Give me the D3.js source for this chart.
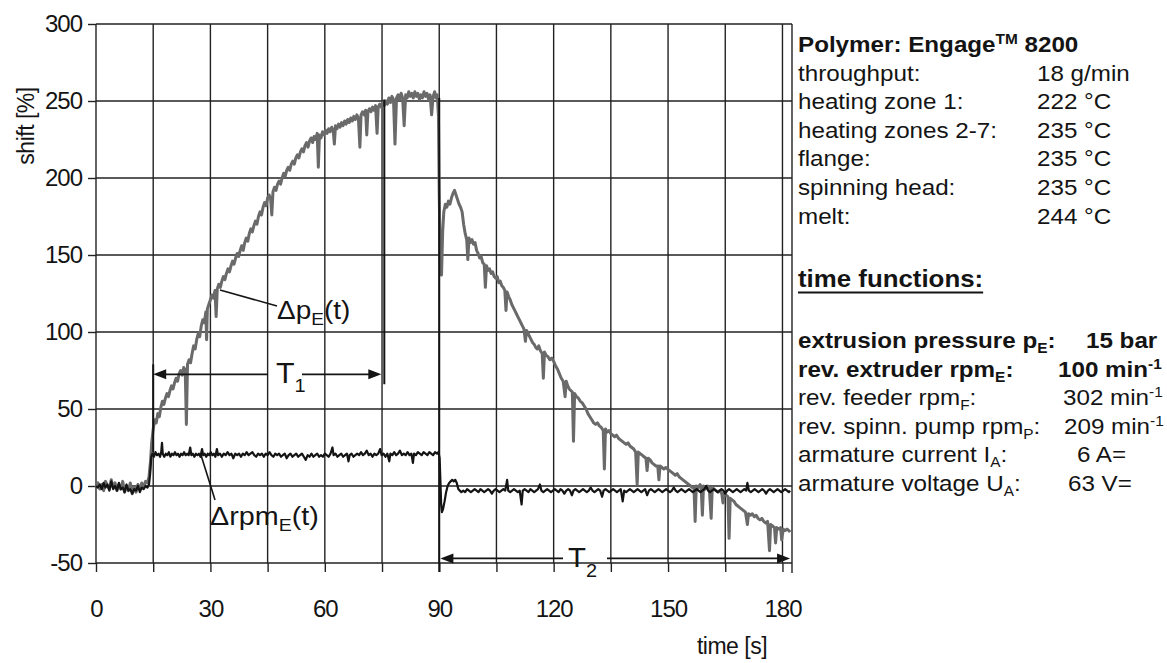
<!DOCTYPE html>
<html><head><meta charset="utf-8">
<script src="https://cdn.jsdelivr.net/npm/d3@7"></script>
<style>
body{margin:0;background:#fff}
text{font-family:"Liberation Sans",Arial,Helvetica,sans-serif;fill:#141414}
</style>
</head><body>
<svg id="c" width="1167" height="663"></svg>
<script>
// ---------------- data ----------------
const xTickLabels = [0, 30, 60, 90, 120, 150, 180];
const xGridValues = [0, 15, 30, 45, 60, 75, 90, 105, 120, 135, 150, 165, 180];
const yTickValues = [-50, 0, 50, 100, 150, 200, 250, 300];

// Δp_E(t) [%] : [time s, shift %]
const pressureShift = [
[0,-1],[0.5,2],[1,-2],[1.5,1],[2,-3],[2.5,3],[3,0],[3.5,-2],[4,4],[4.5,-1],[5,2],[5.5,-3],[6,1],[6.5,-2],[7,3],[7.5,-4],[8,0],[8.5,-3],[9,2],[9.5,-5],[10,-1],[10.5,-4],[11,1],[11.5,-2],[12,2],[12.5,-1],[13,3],[13.5,2],[13.9,6],
[14.3,16],[14.6,28],[15,37],[15.4,43],[15.8,41],[16.2,47],[16.6,45],[17,51],[17.4,55],[17.8,53],[18.2,57],[18.6,60],[19,58],[19.4,62],[19.8,65],[20.2,63],[20.6,67],[21,70],[21.4,68],[21.8,73],[22.2,75],[22.6,72],[23,77],[23.4,75],[23.7,40],[24,79],[24.4,82],[24.8,80],[25.2,86],[25.6,91],[26,89],[26.4,95],[26.8,99],[27.2,97],[27.6,104],[28,108],[28.4,106],[28.8,113],[29,95],[29.2,115],[29.6,118],[30,121],[30.4,124],[30.8,122],[31.2,127],[31.5,110],[31.8,128],[32.2,131],[32.6,129],[33,133],[33.4,136],[33.8,134],[34.2,138],[34.6,141],[35,139],[35.4,143],[35.8,146],[36.2,144],[36.6,148],[37,151],[37.4,149],[37.8,153],[38.2,156],[38.6,153],[39,158],[39.4,161],[39.8,159],[40.2,164],[40.6,167],[41,165],[41.4,169],[41.8,172],[42.2,170],[42.6,175],[43,178],[43.4,176],[43.8,181],[44.2,184],[44.6,182],[45,187],[45.4,189],[45.8,186],[46.1,176],[46.4,191],[46.8,194],[47.2,192],[47.6,196],[48,198],[48.4,196],[48.8,200],[49.2,203],[49.6,201],[50,205],[50.4,207],[50.8,205],[51.2,209],[51.6,211],[52,209],[52.4,213],[52.8,215],[53.2,213],[53.6,217],[54,219],[54.4,217],[54.8,221],[55.2,223],[55.6,220],[56,224],[56.4,226],[56.8,223],[57.2,227],[57.6,225],[58,229],[58.3,207],[58.6,228],[59,226],[59.4,230],[59.8,228],[60.2,231],[60.6,229],[61,232],[61.4,230],[61.8,233],[62.2,231],[62.5,222],[62.8,234],[63.2,232],[63.6,235],[64,233],[64.4,236],[64.8,234],[65.2,237],[65.6,235],[66,238],[66.4,236],[66.8,239],[67.2,237],[67.6,240],[68,238],[68.4,241],[68.8,239],[69.2,220],[69.5,241],[69.9,243],[70.3,241],[70.7,244],[71,228],[71.3,243],[71.7,245],[72.1,243],[72.5,246],[72.9,244],[73.3,247],[73.7,229],[74,246],[74.4,248],[74.8,246],[75.2,249],[75.6,247],[76,250],[76.4,248],[76.8,252],[77.2,249],[77.6,253],[78,251],[78.4,222],[78.8,252],[79.2,254],[79.6,251],[80,255],[80.4,252],[80.8,234],[81.2,254],[81.6,252],[82,256],[82.4,253],[82.8,255],[83.2,252],[83.6,256],[84,253],[84.4,255],[84.8,251],[85.2,254],[85.6,252],[86,256],[86.4,253],[86.8,255],[87.2,251],[87.6,254],[88,241],[88.4,253],[88.8,256],[89.2,252],[89.5,254],[89.8,240],
[90,190],[90.3,140],[90.6,137],[90.9,165],[91.2,178],[91.6,183],[92,181],[92.4,185],[92.8,183],[93.2,187],[93.6,190],[94,192],[94.4,189],[94.8,186],[95.2,183],[95.6,181],[96,178],[96.4,170],[96.8,164],[97.2,160],[97.5,147],[97.8,161],[98.2,158],[98.6,160],[99,157],[99.4,158],[99.8,153],[100.2,151],[100.6,148],[101,149],[101.4,145],[101.8,144],[102.1,129],[102.4,143],[102.8,140],[103.2,141],[103.6,138],[104,139],[104.4,136],[104.8,135],[105.2,136],[105.6,132],[106,133],[106.4,130],[106.8,129],[107.2,127],[107.5,114],[107.8,126],[108.2,123],[108.6,121],[109,118],[109.4,116],[109.8,114],[110.2,112],[110.6,110],[111,108],[111.4,106],[111.8,104],[112.2,102],[112.6,94],[112.9,101],[113.3,99],[113.7,97],[114.1,95],[114.5,93],[114.9,92],[115.3,90],[115.7,89],[116.1,91],[116.5,88],[117,86],[117.3,70],[117.6,87],[118,85],[118.5,84],[119,82],[119.5,83],[120,81],[120.5,78],[121,76],[121.5,73],[122,70],[122.5,68],[123,58],[123.3,68],[123.7,65],[124.1,63],[124.5,62],[124.9,61],[125.2,29],[125.5,60],[126,58],[126.5,57],[127,55],[127.5,54],[128,52],[128.5,50],[129,47],[129.5,45],[130,43],[130.5,41],[131,40],[131.5,41],[132,39],[132.5,38],[133,36],[133.3,11],[133.6,37],[134,35],[134.5,36],[135,34],[135.5,33],[136,32],[136.5,33],[137,31],[137.5,30],[138,29],[138.5,28],[139,27],[139.5,28],[140,26],[140.5,25],[141,24],[141.5,22],[141.9,1],[142.2,22],[142.7,21],[143.2,20],[143.7,19],[144.2,18],[144.5,10],[144.8,18],[145.3,17],[145.8,15],[146.3,14],[146.8,13],[147.3,13],[147.6,4],[147.9,13],[148.4,12],[148.9,11],[149.4,12],[149.9,11],[150.4,10],[150.9,9],[151.4,8],[151.9,7],[152.4,8],[152.9,6],[153.4,5],[153.9,4],[154.4,3],[154.9,2],[155.4,1],[155.9,0],[156.4,-1],[156.8,-1],[157.1,-23],[157.4,0],[157.9,-1],[158.4,1],[158.7,-2],[159,-19],[159.3,0],[159.8,-2],[160.3,0],[160.8,-1],[161.3,-21],[161.6,-1],[162.1,-2],[162.6,-3],[163.1,-4],[163.6,-3],[164.1,-5],[164.4,-11],[164.7,-5],[165.2,-6],[165.7,-7],[166,-34],[166.3,-8],[166.8,-9],[167.3,-10],[167.8,-12],[168.3,-13],[168.8,-14],[169.3,-15],[169.8,-16],[170.3,-17],[170.8,-25],[171.1,-18],[171.6,-19],[172.1,-18],[172.6,-20],[173.1,-19],[173.6,-21],[174.1,-22],[174.6,-21],[175.1,-23],[175.6,-24],[176.1,-23],[176.6,-42],[176.9,-25],[177.4,-26],[177.9,-27],[178.2,-37],[178.5,-27],[179,-28],[179.5,-27],[179.8,-35],[180.2,-28],[180.7,-29],[181.2,-28],[181.7,-29],[182,-30]
];

// Δrpm_E(t) [%] : [time s, shift %]
const rpmShift = [
[0,0],[0.5,-1],[1,1],[1.5,-2],[2,2],[2.5,-1],[3,1],[3.5,-3],[4,3],[4.5,-2],[5,0],[5.5,-3],[6,2],[6.5,-2],[7,-1],[7.5,-4],[8,1],[8.5,-3],[9,-2],[9.5,-5],[10,-2],[10.5,-3],[11,0],[11.5,-4],[12,-1],[12.5,-2],[13,0],[13.5,-1],[13.9,1],[14.2,8],[14.5,19],[14.8,21],[15.2,19],[15.6,22],[16,20],[16.4,21],[16.8,19],[17.1,22],[17.3,28],[17.5,21],[17.9,19],[18.3,21],[18.7,20],[19.1,22],[19.5,19],[19.9,21],[20.3,20],[20.7,22],[21.1,20],[21.5,21],[21.9,19],[22.3,21],[22.7,20],[23.1,22],[23.5,20],[23.9,21],[24.3,20],[24.7,25],[25,20],[25.4,21],[25.8,19],[26.2,21],[26.6,20],[27,21],[27.4,19],[27.8,24],[28.1,20],[28.5,21],[28.9,19],[29.3,21],[29.7,20],[30.1,22],[30.5,20],[30.9,21],[31.3,19],[31.7,24],[32,20],[32.5,21],[33,19],[33.5,21],[34,20],[34.5,22],[35,20],[35.5,21],[36,18],[36.5,21],[37,20],[37.5,21],[38,19],[38.5,21],[39,20],[39.5,22],[40,20],[40.5,21],[41,22],[41.5,20],[42,19],[42.5,21],[43,20],[43.5,21],[44,19],[44.5,21],[45,20],[45.5,22],[46,20],[46.5,19],[47,21],[47.5,20],[48,21],[48.5,19],[49,20],[49.5,21],[50,18],[50.5,20],[51,21],[51.5,19],[52,20],[52.5,21],[53,19],[53.5,20],[54,21],[54.5,19],[55,17],[55.5,20],[56,19],[56.5,21],[57,19],[57.5,20],[58,21],[58.5,19],[59,20],[59.5,19],[60,21],[60.5,20],[61,19],[61.5,21],[62,25],[62.3,20],[62.8,21],[63.3,19],[63.8,20],[64.3,21],[64.8,19],[65.3,20],[65.8,21],[66.2,16],[66.5,20],[67,21],[67.5,19],[68,20],[68.5,21],[69,20],[69.5,22],[70,20],[70.5,21],[71,23],[71.5,20],[72,21],[72.5,19],[73,21],[73.5,20],[74,21],[74.5,24],[74.9,20],[75.4,21],[75.9,19],[76.4,21],[76.9,16],[77.2,21],[77.7,20],[78.2,22],[78.7,20],[79.2,21],[79.7,23],[80.2,20],[80.7,21],[81.2,20],[81.7,22],[82.2,20],[82.7,21],[83.1,15],[83.4,21],[83.9,20],[84.4,22],[84.9,21],[85.4,20],[85.9,22],[86.4,21],[86.9,20],[87.4,22],[87.9,21],[88.4,20],[88.9,22],[89.4,21],[89.8,22],
[90.1,18],[90.3,4],[90.5,-12],[90.7,-17],[91,-15],[91.4,-10],[91.8,-4],[92.2,0],[92.6,2],[93,3],[93.4,4],[93.8,3],[94.2,4],[94.6,2],[95,-2],[95.4,-3],[95.8,-4],[96.3,-3],[96.8,-4],[97.3,-2],[97.8,-3],[98.3,-4],[98.8,-3],[99.3,-2],[99.8,-3],[100.3,-4],[100.8,-2],[101.3,-3],[101.8,-4],[102.3,-3],[102.8,-2],[103.3,-3],[103.8,-5],[104.3,-3],[104.8,-2],[105.3,-3],[105.8,-4],[106.3,-3],[106.8,-2],[107.3,-3],[107.8,4],[108.1,-3],[108.6,-4],[109.1,-3],[109.6,-2],[110.1,-3],[110.6,-4],[111.1,-3],[111.6,-12],[111.9,-3],[112.4,-2],[112.9,-3],[113.4,-4],[113.9,-2],[114.4,-3],[114.9,-4],[115.4,-3],[115.9,-2],[116.4,1],[116.8,-3],[117.3,-4],[117.8,-3],[118.3,-2],[118.8,-3],[119.3,-4],[119.8,-3],[120.3,-2],[120.8,-3],[121.3,-4],[121.8,-2],[122.3,-3],[122.8,-5],[123.3,-3],[123.8,-2],[124.3,-3],[124.8,-6],[125.2,-3],[125.7,-2],[126.2,-3],[126.7,-4],[127.2,-3],[127.7,-2],[128.2,-3],[128.7,-4],[129.2,-3],[129.7,-1],[130.2,-3],[130.7,-4],[131.2,-3],[131.7,-2],[132.2,-3],[132.7,-7],[133.1,-3],[133.6,-2],[134.1,-3],[134.6,-4],[135.1,-3],[135.6,-2],[136.1,-3],[136.6,-4],[137.1,-3],[137.6,-2],[138.1,-10],[138.5,-3],[139,-4],[139.5,-3],[140,-2],[140.5,-3],[141,-4],[141.5,-3],[142,-2],[142.5,-3],[143,-4],[143.5,-3],[144,-2],[144.5,-6],[145,-3],[145.5,-2],[146,-3],[146.5,-4],[147,-3],[147.5,-2],[148,-3],[148.5,-4],[149,-3],[149.5,-2],[150,-3],[150.5,-4],[151,-3],[151.5,-1],[152,-3],[152.5,-4],[153,-3],[153.5,-2],[154,-3],[154.5,-4],[155,-3],[155.5,-2],[156,-3],[156.5,-4],[157,-3],[157.5,-2],[158,-3],[158.5,-4],[159,-3],[159.5,-2],[160,0],[160.5,-3],[161,-4],[161.5,-3],[162,-2],[162.5,-3],[163,-4],[163.5,-3],[164,-2],[164.5,-3],[165,-5],[165.5,-3],[166,-2],[166.5,-3],[167,-4],[167.5,-3],[168,-2],[168.5,-3],[169,-4],[169.5,-3],[170,-2],[170.5,-3],[170.8,2],[171.2,-3],[171.7,-4],[172.2,-3],[172.7,-2],[173.2,-3],[173.7,-4],[174.2,-3],[174.7,-2],[175.2,-3],[175.7,-5],[176.2,-3],[176.7,-2],[177.2,-3],[177.7,-4],[178.2,-3],[178.7,-2],[179.2,-3],[179.7,-4],[180.2,-3],[180.7,-2],[181.2,-3],[181.7,-4],[182,-3]
];

// annotation values (time s / shift %)
const t1Marks = {start: 15, end: 75.6, level: 72.5, endTop: 251, endBottom: 66, startTop: 79, startBottom: 22};
const t2Marks = {start: 90.3, end: 182, level: -47, markTop: 252};

const polymerTitle = ["Polymer: Engage", "TM", " 8200"];
const paramLabels = ["throughput:", "heating zone 1:", "heating zones 2-7:", "flange:", "spinning head:", "melt:"];
const paramValues = ["18 g/min", "222 °C", "235 °C", "235 °C", "235 °C", "244 °C"];
const funcLabels = [
  ["extrusion pressure p", "E", ":"],
  ["rev. extruder rpm", "E", ":"],
  ["rev. feeder rpm", "F", ":"],
  ["rev. spinn. pump rpm", "P", ":"],
  ["armature current I", "A", ":"],
  ["armature voltage U", "A", ":"]
];
const funcValues = [["15 bar", ""], ["100 min", "-1"], ["302 min", "-1"], ["209 min", "-1"], ["6 A=", ""], ["63 V=", ""]];
const funcBold = [true, true, false, false, false, false];

// ---------------- layout ----------------
const svg = d3.select("#c");
const x = d3.scaleLinear().domain([0, 182.5]).range([96, 792]);
const y = d3.scaleLinear().domain([-50, 300]).range([563, 24]);
const ink = "#141414";

// grid
const grid = svg.append("g").attr("stroke", "#222").attr("stroke-width", 1.4);
grid.selectAll(".v").data(xGridValues).join("line")
  .attr("x1", d => x(d)).attr("x2", d => x(d)).attr("y1", y(300)).attr("y2", y(-50));
grid.selectAll(".h").data(yTickValues).join("line")
  .attr("x1", x(0)).attr("x2", x(182.5)).attr("y1", d => y(d)).attr("y2", d => y(d));
grid.append("line").attr("x1", x(182.5)).attr("x2", x(182.5)).attr("y1", y(300)).attr("y2", y(-50) + 10);

// axes
const xAxis = d3.axisBottom(x).tickValues(xGridValues).tickSizeInner(9).tickSizeOuter(0).tickPadding(28)
  .tickFormat(d => xTickLabels.includes(d) ? String(d) : "");
const gx = svg.append("g").attr("transform", `translate(0,${y(-50)})`).call(xAxis);
const yAxis = d3.axisLeft(y).tickValues(yTickValues).tickSizeInner(8).tickSizeOuter(0).tickPadding(6)
  .tickFormat(d => String(d));
const gy = svg.append("g").attr("transform", `translate(${x(0)},0)`).call(yAxis);
[gx, gy].forEach(g => {
  g.select(".domain").remove();
  g.selectAll("line").attr("stroke", "#222").attr("stroke-width", 1.4);
  g.selectAll("text").attr("font-size", 24).attr("letter-spacing", -1)
    .attr("fill", ink).attr("font-family", '"Liberation Sans", Arial, sans-serif');
});

svg.append("text").attr("transform", `translate(34,126) rotate(-90)`)
  .attr("text-anchor", "middle").attr("font-size", 23).attr("letter-spacing", -0.5).text("shift [%]");
svg.append("text").attr("x", 732).attr("y", 654).attr("text-anchor", "middle")
  .attr("font-size", 23).attr("letter-spacing", -0.5).text("time [s]");

// series
const line = d3.line().x(d => x(d[0])).y(d => y(d[1]));
svg.append("path").datum(pressureShift).attr("d", line)
  .attr("fill", "none").attr("stroke", "#6a6a6a").attr("stroke-width", 3).attr("stroke-linejoin", "round");
svg.append("path").datum(rpmShift).attr("d", line)
  .attr("fill", "none").attr("stroke", ink).attr("stroke-width", 2.2).attr("stroke-linejoin", "round");

// markers
const mk = svg.append("g").attr("stroke", ink).attr("stroke-width", 2);
mk.append("line").attr("x1", x(t1Marks.end)).attr("x2", x(t1Marks.end))
  .attr("y1", y(t1Marks.endTop)).attr("y2", y(t1Marks.endBottom));
mk.append("line").attr("x1", x(t1Marks.start)).attr("x2", x(t1Marks.start))
  .attr("y1", y(t1Marks.startTop)).attr("y2", y(t1Marks.startBottom));
mk.append("line").attr("x1", x(90)).attr("x2", x(90))
  .attr("y1", y(t2Marks.markTop)).attr("y2", y(-50) + 9);

function dimArrow(x1, x2, yy, gapL, gapR) {
  const g = svg.append("g");
  g.append("line").attr("x1", x1 + 4).attr("x2", gapL).attr("y1", yy).attr("y2", yy)
    .attr("stroke", ink).attr("stroke-width", 1.8);
  g.append("line").attr("x1", gapR).attr("x2", x2 - 4).attr("y1", yy).attr("y2", yy)
    .attr("stroke", ink).attr("stroke-width", 1.8);
  g.append("path").attr("d", `M${x1},${yy}L${x1 + 13},${yy - 5}L${x1 + 13},${yy + 5}Z`).attr("fill", ink);
  g.append("path").attr("d", `M${x2},${yy}L${x2 - 13},${yy - 5}L${x2 - 13},${yy + 5}Z`).attr("fill", ink);
}
dimArrow(x(t1Marks.start), x(t1Marks.end) - 3, y(t1Marks.level), 268, 302);
dimArrow(x(t2Marks.start), x(t2Marks.end), y(t2Marks.level), 563, 607);

function subLabel(px, py, size, main, sub, tail, sx, subSize, subDy) {
  const t = svg.append("text").attr("transform", `translate(${px},${py}) scale(${sx},1)`).attr("font-size", size);
  t.append("tspan").text(main);
  t.append("tspan").attr("font-size", subSize).attr("dy", subDy).text(sub);
  if (tail) t.append("tspan").attr("dy", -subDy).text(tail);
}
subLabel(276, 383, 29, "T", "1", "", 1.05, 19, 9);
subLabel(568, 567, 28, "T", "2", "", 1.05, 19, 10);
subLabel(277, 319, 25, "Δp", "E", "(t)", 1.12, 17, 6);
subLabel(210, 525, 25, "Δrpm", "E", "(t)", 1.15, 17, 6);

// leader lines
svg.append("line").attr("x1", 220).attr("y1", 290).attr("x2", 277).attr("y2", 306)
  .attr("stroke", ink).attr("stroke-width", 1.6);
svg.append("line").attr("x1", 201).attr("y1", 455).attr("x2", 215).attr("y2", 500)
  .attr("stroke", ink).attr("stroke-width", 1.6);

// ---------------- side panel ----------------
const SX = 1.1, X0 = 798;
const lx = a => (a - X0) / SX;
const panel = svg.append("g").attr("transform", `translate(${X0},0) scale(${SX},1)`).attr("font-size", 22);

const pt = panel.append("text").attr("x", 0).attr("y", 52).attr("font-weight", "bold");
pt.append("tspan").text(polymerTitle[0]);
pt.append("tspan").attr("font-size", 14).attr("dy", -8).text(polymerTitle[1]);
pt.append("tspan").attr("dy", 8).text(polymerTitle[2]);

const paramBase = [80.6, 109.2, 137.8, 166.4, 195, 223.6];
paramLabels.forEach((s, i) => {
  panel.append("text").attr("x", 0).attr("y", paramBase[i]).text(s);
  panel.append("text").attr("x", lx(1037)).attr("y", paramBase[i]).text(paramValues[i]);
});

const tf = panel.append("text").attr("x", 0).attr("y", 287).attr("font-weight", "bold")
  .attr("font-size", 23.5).text("time functions:");
const tfw = tf.node().getComputedTextLength();
panel.append("line").attr("x1", 0).attr("x2", tfw).attr("y1", 292.5).attr("y2", 292.5)
  .attr("stroke", ink).attr("stroke-width", 1.8);

const funcBase = [348, 376.6, 405.2, 433.8, 462.4, 491];
const funcValX = [1086, 1058, 1063, 1064, 1077, 1068];
funcLabels.forEach((lab, i) => {
  const t = panel.append("text").attr("x", 0).attr("y", funcBase[i])
    .attr("font-weight", funcBold[i] ? "bold" : "normal");
  t.append("tspan").text(lab[0]);
  t.append("tspan").attr("font-size", 14).attr("dy", 5).text(lab[1]);
  t.append("tspan").attr("dy", -5).text(lab[2]);
  const v = panel.append("text").attr("x", lx(funcValX[i])).attr("y", funcBase[i])
    .attr("font-weight", funcBold[i] ? "bold" : "normal");
  v.append("tspan").text(funcValues[i][0]);
  if (funcValues[i][1]) v.append("tspan").attr("font-size", 14).attr("dy", -8).text(funcValues[i][1]);
});
</script>
</body></html>
